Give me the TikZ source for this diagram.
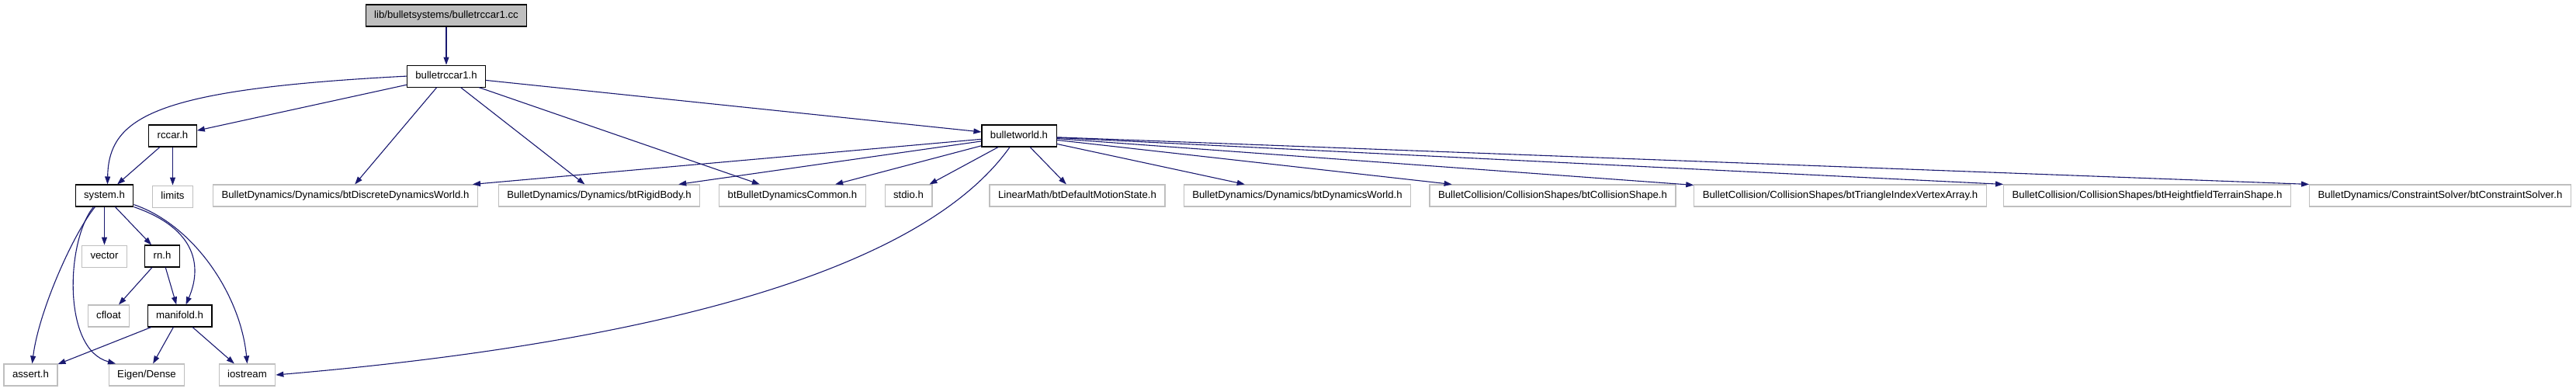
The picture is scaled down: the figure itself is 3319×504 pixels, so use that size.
\documentclass[tikz,border=0pt]{standalone}
\usepackage{fontspec}
\setmainfont{Liberation Sans}
\usepackage{tikz}
\usetikzlibrary{arrows.meta,positioning}
\definecolor{edgeblue}{HTML}{191970}
\definecolor{boxgray}{HTML}{BFBFBF}

\begin{document}
\begin{tikzpicture}[x=1pt,y=-1pt,node distance=49pt,>={Triangle[length=10pt,width=7pt]},
  every node/.style={rectangle,minimum height=28pt,inner xsep=11pt,inner ysep=0pt,
    text height=10pt,text depth=3pt,font=\fontsize{13.2}{15}\selectfont,line width=1.1pt},
  hdr/.style={draw=black,fill=boxgray},
  inc/.style={draw=black,fill=white},
  leaf/.style={draw=boxgray,fill=white},
  dep/.style={->,draw=edgeblue,line width=1.1pt}]
\useasboundingbox (0,0) rectangle (3319,504);
\node (root) [hdr] at (575,20) {lib/bulletsystems/bulletrccar1.cc};
\node (brc) [inc,below=of root] {bulletrccar1.h};
\node (rccar) [inc] at (222.5,175) {rccar.h};
\node (bw) [inc] at (1313,175) {bulletworld.h};
\node (sys) [inc] at (134.5,252) {system.h};
\node (lim) [leaf,below=of rccar] {limits};
\node (dyn) [leaf] at (445,252) {BulletDynamics/Dynamics/btDiscreteDynamicsWorld.h};
\node (rigid) [leaf] at (772,252) {BulletDynamics/Dynamics/btRigidBody.h};
\node (common) [leaf] at (1021,252) {btBulletDynamicsCommon.h};
\node (stdio) [leaf] at (1170.5,252) {stdio.h};
\node (motion) [leaf] at (1388,252) {LinearMath/btDefaultMotionState.h};
\node (dynw) [leaf] at (1671.5,252) {BulletDynamics/Dynamics/btDynamicsWorld.h};
\node (cshape) [leaf] at (2000.5,252) {BulletCollision/CollisionShapes/btCollisionShape.h};
\node (tiva) [leaf] at (2371,252) {BulletCollision/CollisionShapes/btTriangleIndexVertexArray.h};
\node (hfield) [leaf] at (2766.5,252) {BulletCollision/CollisionShapes/btHeightfieldTerrainShape.h};
\node (csolver) [leaf] at (3144,252) {BulletDynamics/ConstraintSolver/btConstraintSolver.h};
\node (vec) [leaf,below=of sys] {vector};
\node (rn) [inc] at (209,330) {rn.h};
\node (cfloat) [leaf] at (140,407) {cfloat};
\node (mani) [inc] at (231.5,407) {manifold.h};
\node (assert) [leaf] at (39.5,483) {assert.h};
\node (eigen) [leaf] at (189,483) {Eigen/Dense};
\node (ios) [leaf] at (318.5,483) {iostream};
\draw[dep] (root) -- (brc);
\draw[dep] (brc.west) .. controls (200,115) and (140,150) .. ([xshift=4pt]sys.north);
\draw[dep] (brc) -- (rccar); \draw[dep] (brc) -- (dyn); \draw[dep] (brc) -- (rigid);
\draw[dep] (brc) -- (common); \draw[dep] (brc) -- (bw);
\draw[dep] (rccar) -- (sys); \draw[dep] (rccar) -- (lim);
\draw[dep] (bw) -- (dyn); \draw[dep] (bw) -- (rigid); \draw[dep] (bw) -- (common);
\draw[dep] (bw) -- (stdio); \draw[dep] (bw) -- (motion); \draw[dep] (bw) -- (dynw);
\draw[dep] (bw) -- (cshape); \draw[dep] (bw) -- (tiva);
\draw[dep] (bw) -- (hfield.north west); \draw[dep] (bw) -- (csolver.north west);
\draw[dep] ([xshift=-12pt]bw.south) .. controls (1180,360) and (800,445) .. (ios.east);
\draw[dep] (sys) -- (vec); \draw[dep] (sys) -- (rn);
\draw[dep] (sys.south east) .. controls (255,295) and (260,345) .. ([xshift=8pt]mani.north);
\draw[dep] ([yshift=3pt]sys.south east) .. controls (250,290) and (310,380) .. (ios.north);
\draw[dep] ([xshift=-12pt]sys.south) .. controls (95,300) and (50,400) .. ([xshift=2pt]assert.north);
\draw[dep] ([xshift=-14pt]sys.south) .. controls (85,310) and (80,450) .. ([xshift=-40pt]eigen.north);
\draw[dep] (rn) -- (cfloat); \draw[dep] (rn) -- (mani);
\draw[dep] (mani) -- (assert); \draw[dep] (mani) -- (eigen); \draw[dep] (mani) -- (ios);
\end{tikzpicture}
\end{document}
